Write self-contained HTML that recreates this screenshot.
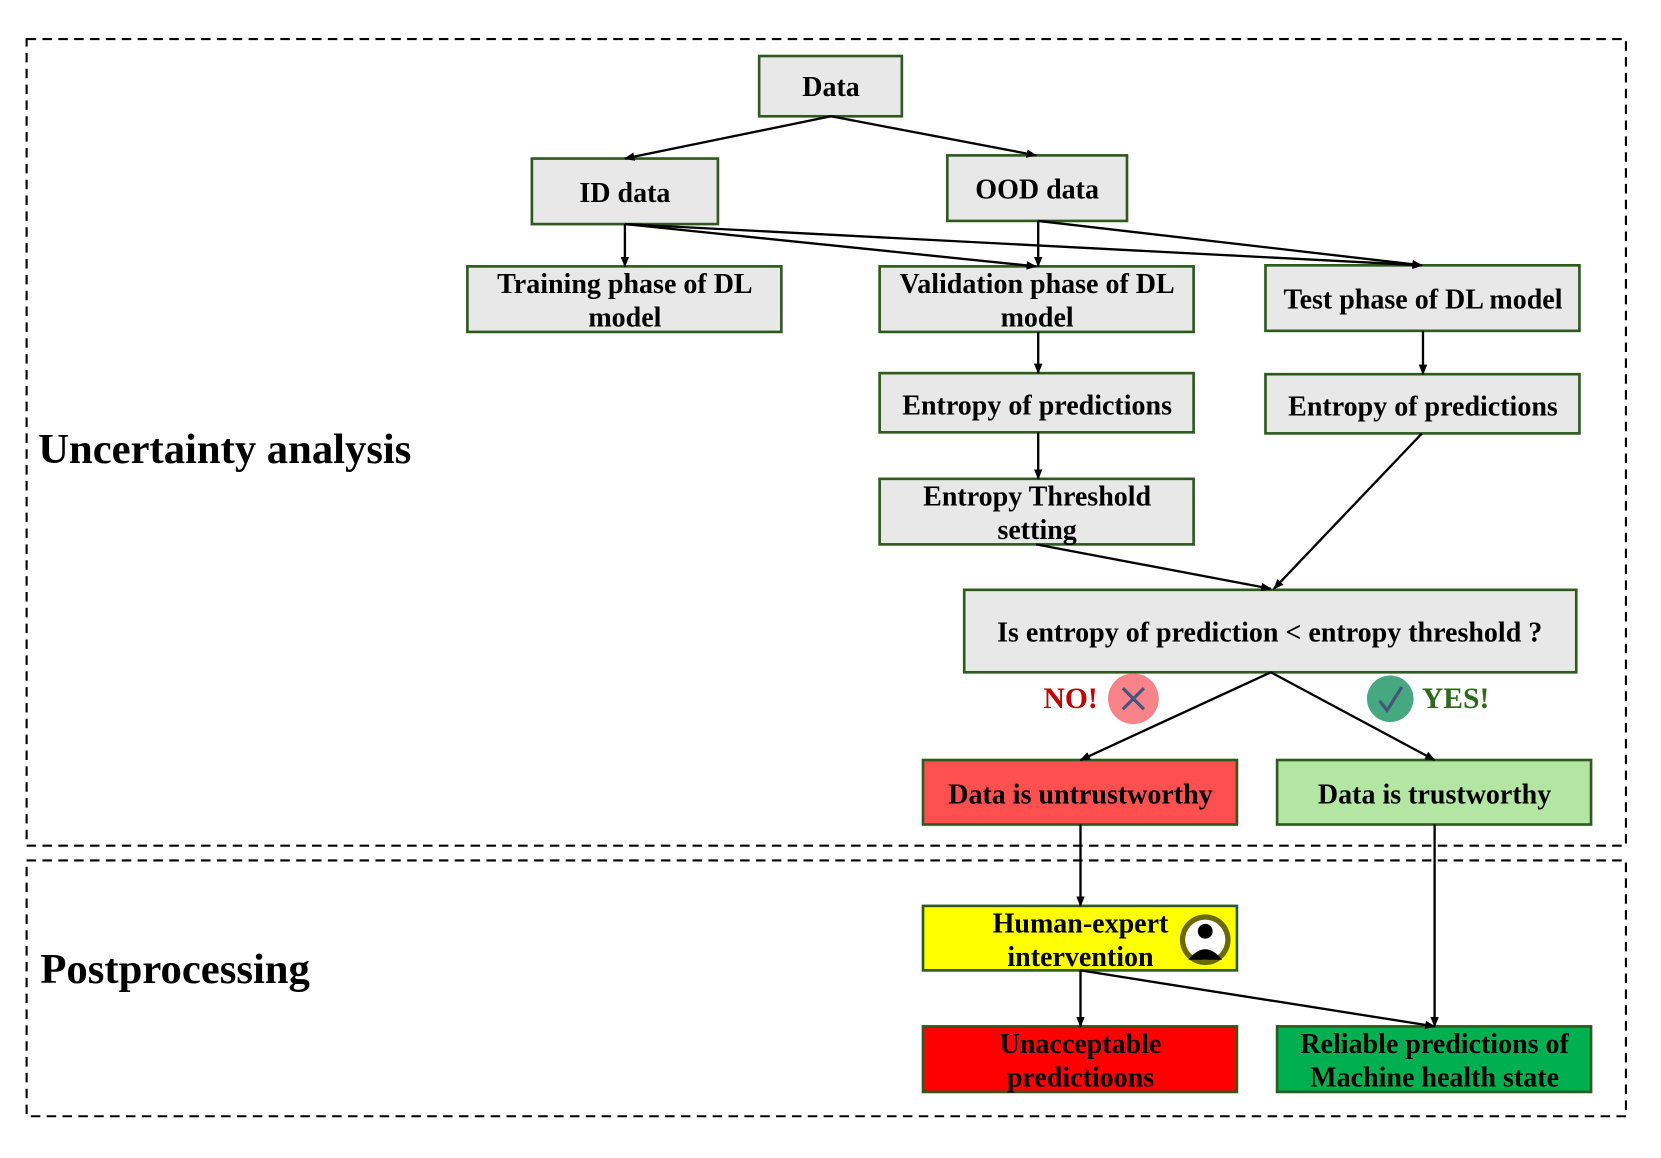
<!DOCTYPE html>
<html><head><meta charset="utf-8"><style>
html,body{margin:0;padding:0;background:#fff;}
svg{display:block;}
text{font-family:"Liberation Serif",serif;font-weight:bold;}
</style></head><body>
<svg width="1661" height="1158" viewBox="0 0 1571 1095.5" xmlns="http://www.w3.org/2000/svg">
<defs>
<marker id="a" markerWidth="10" markerHeight="10" refX="9" refY="5" orient="auto" markerUnits="userSpaceOnUse">
<path d="M0,1 L10,5 L0,9 Z" fill="#000"/></marker>
</defs>
<rect x="25" y="37" width="1513" height="763" fill="none" stroke="#000" stroke-width="2" stroke-dasharray="9,6"/>
<rect x="25" y="814" width="1513" height="242" fill="none" stroke="#000" stroke-width="2" stroke-dasharray="9,6"/>
<text x="36" y="438" font-size="40" textLength="353" lengthAdjust="spacingAndGlyphs">Uncertainty analysis</text>
<text x="38" y="930" font-size="40" textLength="255" lengthAdjust="spacingAndGlyphs">Postprocessing</text>
<g stroke="#2E5A1E" stroke-width="2.5">
<rect x="718" y="53" width="135" height="57" fill="#E8E8E8"/>
<rect x="503" y="150" width="176" height="62" fill="#E8E8E8"/>
<rect x="896" y="147" width="170" height="62" fill="#E8E8E8"/>
<rect x="442" y="252" width="297" height="62" fill="#E8E8E8"/>
<rect x="832" y="252" width="297" height="62" fill="#E8E8E8"/>
<rect x="1197" y="251" width="297" height="62" fill="#E8E8E8"/>
<rect x="832" y="353" width="297" height="56" fill="#E8E8E8"/>
<rect x="1197" y="354" width="297" height="56" fill="#E8E8E8"/>
<rect x="832" y="453" width="297" height="62" fill="#E8E8E8"/>
<rect x="912" y="558" width="579" height="78" fill="#E8E8E8"/>
<rect x="873" y="719" width="297" height="61" fill="#FF5050"/>
<rect x="1208" y="719" width="297" height="61" fill="#B3E6A3"/>
<rect x="873" y="857" width="297" height="61" fill="#FFFF00"/>
<rect x="873" y="971" width="297" height="62" fill="#FF0000"/>
<rect x="1208" y="971" width="297" height="62" fill="#00B050"/>
</g>
<g stroke="#000" stroke-width="2.2" fill="none" marker-end="url(#a)">
<line x1="786" y1="110" x2="591" y2="150"/>
<line x1="786" y1="110" x2="980" y2="147"/>
<line x1="591" y1="212" x2="591" y2="252"/>
<line x1="591" y1="212" x2="980" y2="252"/>
<line x1="591" y1="212" x2="1345" y2="251"/>
<line x1="982" y1="209" x2="982" y2="252"/>
<line x1="982" y1="209" x2="1345" y2="251"/>
<line x1="982" y1="314" x2="982" y2="353"/>
<line x1="1346" y1="313" x2="1346" y2="354"/>
<line x1="982" y1="409" x2="982" y2="453"/>
<line x1="980" y1="515" x2="1202" y2="557"/>
<line x1="1345" y1="410" x2="1205" y2="557"/>
<line x1="1202" y1="636" x2="1022" y2="719"/>
<line x1="1202" y1="636" x2="1357" y2="719"/>
<line x1="1022" y1="780" x2="1022" y2="857"/>
<line x1="1357" y1="780" x2="1357" y2="971"/>
<line x1="1022" y1="918" x2="1022" y2="971"/>
<line x1="1022" y1="918" x2="1357" y2="971"/>
</g>
<g font-size="26.5" text-anchor="middle" fill="#000">
<text x="786" y="91">Data</text>
<text x="591" y="191">ID data</text>
<text x="981" y="188">OOD data</text>
<text x="591" y="277">Training phase of DL</text>
<text x="591" y="309">model</text>
<text x="981" y="277">Validation phase of DL</text>
<text x="981" y="309">model</text>
<text x="1346" y="292">Test phase of DL model</text>
<text x="981" y="392">Entropy of predictions</text>
<text x="1346" y="393">Entropy of predictions</text>
<text x="981" y="478">Entropy Threshold</text>
<text x="981" y="510">setting</text>
<text x="1201" y="607">Is entropy of prediction &lt; entropy threshold ?</text>
<text x="1022" y="760">Data is untrustworthy</text>
<text x="1357" y="760">Data is trustworthy</text>
<text x="1022" y="882">Human-expert</text>
<text x="1022" y="914">intervention</text>
<text x="1022" y="996">Unacceptable</text>
<text x="1022" y="1028">predictioons</text>
<text x="1357" y="996">Reliable predictions of</text>
<text x="1357" y="1028">Machine health state</text>
</g>
<text x="987" y="670" font-size="28" fill="#C00000">NO!</text>
<circle cx="1072" cy="661" r="24" fill="#F8848A"/>
<path d="M1062,651 L1082,671 M1082,651 L1062,671" stroke="#44577A" stroke-width="3"/>
<circle cx="1315" cy="661" r="22" fill="#45A880"/>
<path d="M1305,663 L1312,672 L1326,650" stroke="#44577A" stroke-width="3" fill="none"/>
<text x="1345" y="670" font-size="28" fill="#2E6A1E">YES!</text>
<circle cx="1140" cy="889" r="24" fill="#6A6A00"/>
<circle cx="1140" cy="889" r="19" fill="#fff"/>
<circle cx="1140" cy="881" r="7" fill="#000"/>
<path d="M1124,908 Q1140,888 1156,908 Z" fill="#000"/>
</svg>
</body></html>
